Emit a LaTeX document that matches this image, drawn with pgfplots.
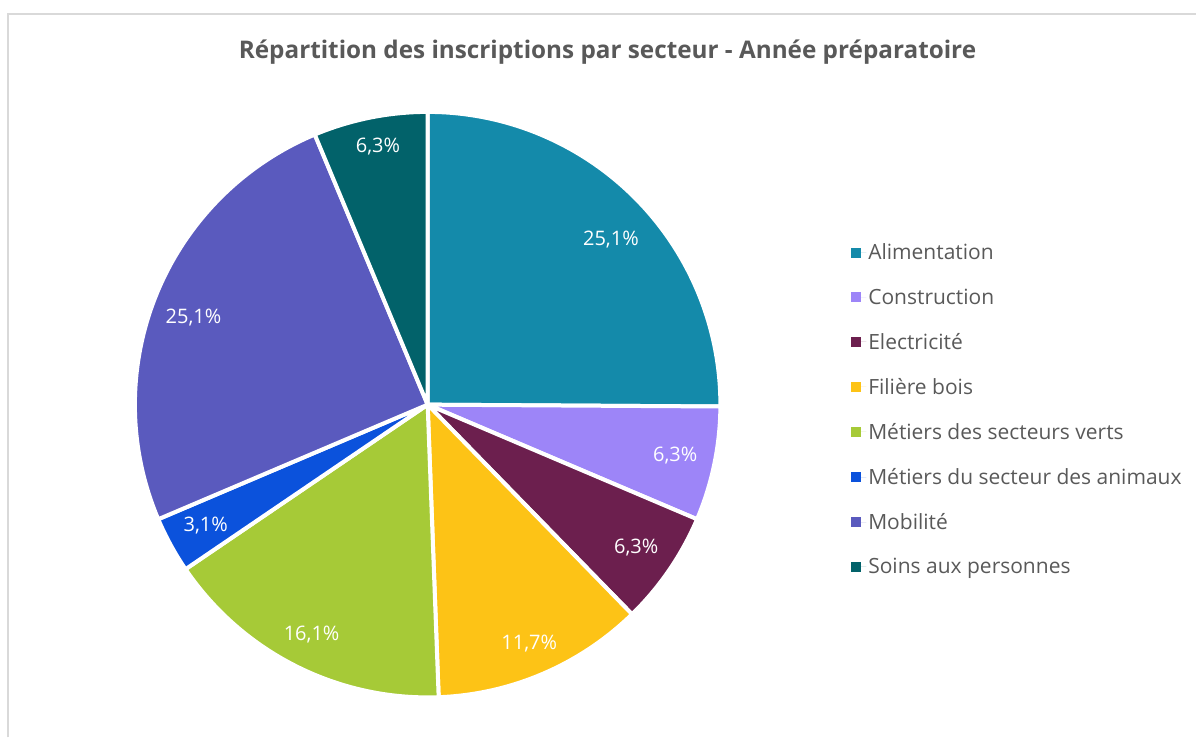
\documentclass[border=0pt]{standalone}
\usepackage{pgfplots}
\usepackage{pgfplotstable}
\pgfplotsset{compat=1.18}
\usepackage{fontspec}
\setmainfont{Open Sans}

\definecolor{cAlim}{HTML}{148AAA}
\definecolor{cCons}{HTML}{9D85F8}
\definecolor{cElec}{HTML}{6C1F4E}
\definecolor{cBois}{HTML}{FDC316}
\definecolor{cVert}{HTML}{A6CA37}
\definecolor{cAnim}{HTML}{0B52DC}
\definecolor{cMobi}{HTML}{5A5ABE}
\definecolor{cSoin}{HTML}{02626A}
\definecolor{txtgray}{HTML}{595959}
\definecolor{framegray}{HTML}{D9D9D9}

% value in percent; dx, dy: small shifts of the percentage label
\pgfplotstableread[col sep=comma]{
label,value,color,dx,dy
Alimentation,25.1,cAlim,4,-13
Construction,6.3,cCons,0,0
Electricité,6.3,cElec,0,0
Filière bois,11.7,cBois,2,-7
Métiers des secteurs verts,16.1,cVert,-2,-4
Métiers du secteur des animaux,3.1,cAnim,0,0
Mobilité,25.1,cMobi,0,-8
Soins aux personnes,6.3,cSoin,0,10
}\piedata

\begin{document}
\begin{tikzpicture}
\begin{axis}[
  width=1197pt, height=738pt, scale only axis,
  xmin=0, xmax=1197, ymin=0, ymax=738,
  hide axis, clip=false,
  legend cell align=left,
  legend image code/.code={\fill[#1] (0pt,-5pt) rectangle (10pt,5pt); \path (0pt,0pt) -- (15pt,0pt);},
  legend style={at={(axis cs:852,496)}, anchor=north west, draw=none, fill=none,
    font=\fontsize{21}{25}\selectfont, text=txtgray, row sep=23.5pt,
    inner sep=0pt, outer sep=0pt,
    /tikz/every even column/.append style={column sep=0pt}},
]
\path (axis cs:0,0) rectangle (axis cs:1197,738);
\draw[framegray, line width=2pt] (axis cs:8,0) -- (axis cs:8,724) -- (axis cs:1197,724);
\node[font=\fontsize{24.3}{29}\selectfont\bfseries, text=txtgray] at (axis cs:608,686)
  {Répartition des inscriptions par secteur - Année préparatoire};

\def\cum{0}
\pgfplotsforeachungrouped \i in {0,...,7}{%
  \pgfplotstablegetelem{\i}{value}\of\piedata \let\v=\pgfplotsretval
  \pgfplotstablegetelem{\i}{color}\of\piedata \let\c=\pgfplotsretval
  \pgfplotstablegetelem{\i}{label}\of\piedata \let\lab=\pgfplotsretval
  \pgfplotstablegetelem{\i}{dx}\of\piedata \let\dx=\pgfplotsretval
  \pgfplotstablegetelem{\i}{dy}\of\piedata \let\dy=\pgfplotsretval
  \pgfmathsetmacro\sa{90-3.6*\cum}%
  \pgfmathsetmacro\ea{90-3.6*(\cum+\v)}%
  \pgfmathsetmacro\ma{(\sa+\ea)/2}%
  \pgfmathsetmacro\lx{428+253*cos(\ma)+\dx}%
  \pgfmathsetmacro\ly{333+253*sin(\ma)+\dy}%
  \pgfmathprintnumberto[/pgf/number format/.cd, use comma, fixed, fixed zerofill, precision=1, assume math mode=true]{\v}{\lbl}%
  \edef\tmp{%
    \noexpand\fill[\c, draw=white, line width=4pt, line join=round]
      (axis cs:428,333) -- ++(\sa:293pt) arc[start angle=\sa, end angle=\ea, radius=293pt] -- cycle;
    \noexpand\node[text=white, font=\noexpand\fontsize{20}{24}\noexpand\selectfont]
      at (axis cs:\lx,\ly) {\lbl\noexpand\%};
  }%
  \tmp
  \edef\tmpb{\noexpand\addlegendimage{fill=\c, draw=none}\noexpand\addlegendentry{\lab}}%
  \tmpb
  \pgfmathsetmacro\cum{\cum+\v}%
}
\end{axis}
\end{tikzpicture}
\end{document}
